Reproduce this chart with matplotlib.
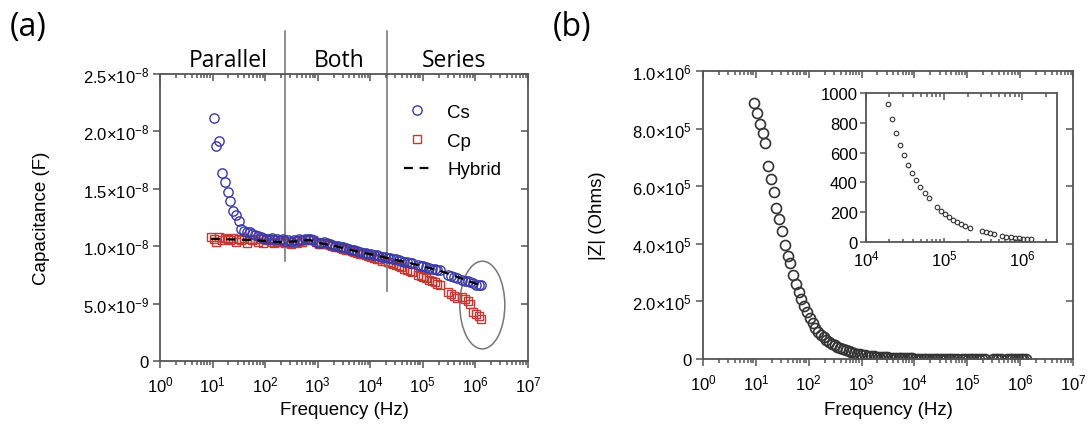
"""Capacitance vs frequency (a) and |Z| vs frequency with inset (b)."""

import matplotlib

matplotlib.use("Agg")
import matplotlib.pyplot as plt
import numpy as np
from matplotlib.patches import Ellipse
from matplotlib.ticker import FixedLocator, LogLocator, NullFormatter

plt.rcParams["font.family"] = ["Liberation Sans", "DejaVu Sans"]
plt.rcParams["mathtext.default"] = "regular"

# measurement frequencies (Hz), shared by both panels
freq = [9.33, 10.53, 11.88, 13.41, 15.13, 17.08, 19.27, 21.75, 24.54, 27.70,
        31.26, 35.27, 39.81, 44.92, 50.69, 57.21, 64.56, 72.85, 82.21, 92.78,
        104.7, 118.2, 133.4, 150.5, 169.8, 191.6, 216.3, 244.1, 275.4, 310.8,
        350.8, 395.9, 446.7, 504.1, 568.9, 642.0, 724.4, 817.5, 922.6, 1041,
        1175, 1326, 1496, 1689, 1905, 2150, 2427, 2738, 3090, 3487,
        3936, 4441, 5012, 5656, 6383, 7203, 8128, 9173, 10350, 11680,
        13180, 14880, 16790, 18950, 21380, 24130, 27230, 30730, 34670, 39130,
        44160, 49830, 56230, 63460, 80810, 91200, 102900, 116100, 131100, 147900,
        166900, 188400, 212600, 305500, 344700, 389000, 439000, 559200, 631000, 712000,
        804000, 907000, 1024000, 1155000, 1303000]

# series capacitance (nF)
cs_nf = [26.5, 21.2, 18.75, 19.2, 16.4, 15.6, 14.75, 13.9, 13.1, 12.7,
         12.2, 11.5, 11.3, 11.25, 11.2, 11.05, 10.95, 10.9, 10.8, 10.75,
         10.65, 10.6, 10.7, 10.55, 10.6, 10.5, 10.6, 10.45, 10.5, 10.4,
         10.5, 10.45, 10.6, 10.55, 10.6, 10.65, 10.6, 10.5, 10.4, 10.3,
         10.25, 10.35, 10.3, 10.2, 10.1, 10.05, 10.0, 9.95, 9.9, 9.85,
         9.75, 9.7, 9.65, 9.6, 9.5, 9.45, 9.4, 9.35, 9.3, 9.25,
         9.2, 9.15, 9.1, 9.05, 9.0, 8.95, 8.9, 8.85, 8.8, 8.75,
         8.65, 8.6, 8.55, 8.5, 8.35, 8.3, 8.25, 8.2, 8.1, 8.05,
         8.0, 7.95, 7.9, 7.5, 7.4, 7.3, 7.25, 7.1, 7.0, 6.95,
         6.85, 6.8, 6.65, 6.6, 6.6]

# parallel capacitance (nF)
cp_nf = [10.8, 10.6, 10.4, 10.8, 10.5, 10.7, 10.6, 10.5, 10.7, 10.4,
         10.6, 10.5, 10.7, 10.3, 10.6, 10.5, 10.6, 10.4, 10.6, 10.3,
         10.5, 10.6, 10.4, 10.3, 10.5, 10.35, 10.5, 10.3, 10.4, 10.2,
         10.45, 10.3, 10.5, 10.4, 10.55, 10.5, 10.6, 10.5, 10.35, 10.2,
         10.15, 10.25, 10.2, 10.1, 10.0, 9.95, 9.9, 9.85, 9.75, 9.7,
         9.65, 9.55, 9.5, 9.45, 9.35, 9.3, 9.2, 9.15, 9.05, 9.0,
         8.9, 8.85, 8.75, 8.7, 8.6, 8.5, 8.45, 8.35, 8.25, 8.15,
         8.05, 7.95, 7.85, 7.75, 7.5, 7.4, 7.3, 7.2, 7.1, 6.95,
         6.85, 6.7, 6.6, 6.0, 5.8, 5.65, 5.5, 5.6, 5.4, 5.2,
         5.0, 4.3, 4.1, 3.9, 3.65]

# hybrid model curve (nF)
hyb_freq = [9.3, 20, 50, 100, 200, 500, 700, 1000, 2000, 5000,
            1e4, 2e4, 5e4, 1e5, 2e5, 5e5, 1.15e6]
hyb_nf = [10.65, 10.6, 10.55, 10.45, 10.35, 10.45, 10.55, 10.3, 10.05, 9.6,
          9.3, 9.0, 8.6, 8.25, 7.9, 7.25, 6.65]

# impedance magnitude (Ohms)
z_ohm = [890000, 855000, 815000, 785000, 750000, 670000, 625000, 580000, 525000, 486000,
         445000, 395000, 358000, 332000, 292000, 261000, 232000, 207000, 185000, 163000,
         143000, 126000, 109000, 94200, 83900, 74700, 66600, 59300, 52800, 47100,
         41900, 37300, 33300, 29600, 26400, 23500, 21000, 18700, 16600, 14800,
         13200, 11800, 10500, 9340, 8320, 7410, 6600, 5880, 5240, 4670,
         4160, 3700, 3300, 2940, 2620, 2330, 2080, 1850, 1650, 1470,
         1310, 1167, 1040, 926, 825, 733, 652, 584, 517, 461,
         413, 371, 330, 292, 236, 209, 187, 166, 151, 135,
         121, 110, 97, 72, 65, 58, 54, 40, 36, 31,
         29, 27, 22, 20, 18]

region_names = ["Parallel", "Both", "Series"]
region_label_x = [19.6, 2520, 3.9e5]  # Hz, where the names sit
region_bounds = [240, 2.1e4]  # Hz

cap_ticks = [0, 5e-9, 1e-8, 1.5e-8, 2e-8, 2.5e-8]
cap_ticklabels = ["0", r"$5.0{\times}10^{-9}$", r"$1.0{\times}10^{-8}$",
                  r"$1.5{\times}10^{-8}$", r"$2.0{\times}10^{-8}$", r"$2.5{\times}10^{-8}$"]
z_ticks = [0, 2e5, 4e5, 6e5, 8e5, 1e6]
z_ticklabels = ["0", r"$2.0{\times}10^{5}$", r"$4.0{\times}10^{5}$",
                r"$6.0{\times}10^{5}$", r"$8.0{\times}10^{5}$", r"$1.0{\times}10^{6}$"]
inset_ticks = [0, 200, 400, 600, 800, 1000]

SPINE = "#555555"
TICK_FS = 12
LABEL_FS = 13.5
TITLE_FONT = ["Open Sans", "DejaVu Sans"]


def log_locators(axis):
    axis.set_major_locator(LogLocator(base=10, numticks=20))
    axis.set_minor_locator(LogLocator(base=10, subs=np.arange(2, 10), numticks=20))
    axis.set_minor_formatter(NullFormatter())


def style_axes(ax, lo, hi, yticks, fs=TICK_FS):
    ax.set_xscale("log")
    ax.set_xlim(lo, hi)
    log_locators(ax.xaxis)
    ax.yaxis.set_major_locator(FixedLocator(yticks))
    for s in ax.spines.values():
        s.set_color(SPINE)
        s.set_linewidth(1.3)
    ax.tick_params(which="both", color=SPINE, labelsize=fs, width=1.1, direction="out")
    ax.tick_params(axis="x", which="major", length=5, pad=5)
    ax.tick_params(axis="x", which="minor", length=3)
    ax.tick_params(axis="y", which="major", length=5, pad=3)


def mirror_ticks(ax, lo, hi, yticks, right=True):
    # top / right ticks point inward while bottom / left point outward
    top = ax.twiny()
    top.set_xscale("log")
    top.set_xlim(lo, hi)
    log_locators(top.xaxis)
    top.tick_params(axis="x", which="both", direction="in", color=SPINE, width=1.1,
                    labeltop=False)
    top.tick_params(axis="x", which="major", length=5)
    top.tick_params(axis="x", which="minor", length=3)
    for s in top.spines.values():
        s.set_visible(False)
    if right:
        rt = ax.twinx()
        rt.set_ylim(ax.get_ylim())
        rt.yaxis.set_major_locator(FixedLocator(yticks))
        rt.tick_params(axis="y", direction="in", color=SPINE, width=1.1, length=5,
                       labelright=False)
        for s in rt.spines.values():
            s.set_visible(False)


fig = plt.figure(figsize=(10.89, 4.27), dpi=100)
f = np.array(freq)

# ---------- (a) capacitance ----------
ax1 = fig.add_axes([0.1469, 0.1522, 0.3379, 0.6721])
style_axes(ax1, 1, 1e7, cap_ticks)
ax1.plot(f, np.array(cs_nf) * 1e-9, "o", ms=6.7, mfc="none", mec="#3a3aa8",
         mew=1.0, label="Cs", zorder=3)
ax1.plot(f, np.array(cp_nf) * 1e-9, "s", ms=6.3, mfc="none", mec="#c23a34",
         mew=1.0, label="Cp", zorder=2)
ax1.plot(hyb_freq, np.array(hyb_nf) * 1e-9, color="black", lw=1.6,
         dashes=(4, 3), label="Hybrid", zorder=4)
ax1.set_ylim(0, 2.5e-8)
ax1.set_yticklabels(cap_ticklabels)
ax1.set_xlabel("Frequency (Hz)", fontsize=LABEL_FS)
ax1.set_ylabel("Capacitance (F)", fontsize=LABEL_FS)
ax1.xaxis.set_label_coords(0.5, -0.139)
ax1.yaxis.set_label_coords(-0.30, 0.5)

# region boundaries + labels above the axes
for xb, ybot in zip(region_bounds, [0.348, 0.244]):
    ax1.plot([xb, xb], [ybot, 1.15], color="#7a7a7a", lw=1.2,
             transform=ax1.get_xaxis_transform(), clip_on=False)
for name, xc in zip(region_names, region_label_x):
    ax1.text(xc, 1.05, name, transform=ax1.get_xaxis_transform(), ha="center",
             va="center", fontsize=16.5, family=TITLE_FONT)

ax1.add_patch(Ellipse((0.876, 0.195), 0.1223, 0.3056, transform=ax1.transAxes,
                      fill=False, edgecolor="#777777", lw=1.1, clip_on=False))
ax1.legend(loc="upper left", bbox_to_anchor=(0.617, 0.955), frameon=False,
           fontsize=13.5, handlelength=1.45, handletextpad=0.85, labelspacing=0.62)
mirror_ticks(ax1, 1, 1e7, cap_ticks)

# ---------- (b) impedance ----------
ax2 = fig.add_axes([0.6455, 0.1569, 0.3398, 0.6745])
style_axes(ax2, 1, 1e7, z_ticks)
ax2.plot(f, z_ohm, "o", ms=7.2, mfc="none", mec="#333333", mew=1.2)
ax2.set_ylim(0, 1e6)
ax2.set_yticklabels(z_ticklabels)
ax2.set_xlabel("Frequency (Hz)", fontsize=LABEL_FS)
ax2.set_ylabel("|Z| (Ohms)", fontsize=LABEL_FS)
ax2.xaxis.set_label_coords(0.5, -0.146)
ax2.yaxis.set_label_coords(-0.262, 0.5)
mirror_ticks(ax2, 1, 1e7, z_ticks)

ins = fig.add_axes([0.7952, 0.4309, 0.1754, 0.349])
style_axes(ins, 1e4, 2.8e6, inset_ticks, fs=12)
ins.plot(f, z_ohm, "o", ms=3.3, mfc="none", mec="#333333", mew=0.8)
ins.set_ylim(0, 1000)
ins.tick_params(axis="x", which="both", direction="in")
ins.tick_params(axis="x", which="major", length=3, pad=5)
ins.tick_params(axis="x", which="minor", length=2)
ins.tick_params(axis="y", which="major", length=4, pad=2)
mirror_ticks(ins, 1e4, 2.8e6, inset_ticks, right=False)

fig.text(0.026, 0.935, "(a)", fontsize=23, family=TITLE_FONT, va="center", ha="center")
fig.text(0.525, 0.935, "(b)", fontsize=23, family=TITLE_FONT, va="center", ha="center")

fig.savefig("out.png", dpi=100)
